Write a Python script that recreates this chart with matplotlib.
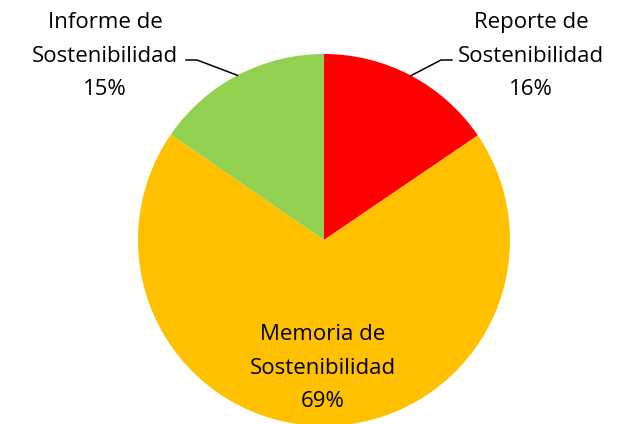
import numpy as np
import matplotlib
matplotlib.use("Agg")
import matplotlib.pyplot as plt

categories = ["Reporte de\nSostenibilidad", "Memoria de\nSostenibilidad", "Informe de\nSostenibilidad"]
values = [15.5, 69.1, 15.4]
colors = ["#FF0000", "#FFC000", "#92D050"]

W, H = 621, 424
fig = plt.figure(figsize=(W / 100, H / 100), dpi=100)
ax = fig.add_axes([0, 0, 1, 1])

cx, cy, r = 324, H - 240, 186
wedges, _ = ax.pie(values, colors=colors, startangle=90, counterclock=False,
                   center=(cx, cy), radius=r, frame=True)
ax.set_xlim(0, W)
ax.set_ylim(0, H)
ax.set_aspect("equal")
ax.axis("off")

font = dict(family="Open Sans", fontsize=16, color="black", ha="center", va="center",
            linespacing=1.8)

# label placements (layout)
label_pos = [(531, H - 56), (323, H - 368), (105, H - 56)]
elbow = [(441, H - 60, 452), None, (197, H - 60, 186)]

for w, cat, v, pos, el in zip(wedges, categories, values, label_pos, elbow):
    ax.text(pos[0], pos[1], f"{cat}\n{v:.0f}%", **font)
    if el is not None:
        mid = np.deg2rad((w.theta1 + w.theta2) / 2)
        sx, sy = cx + r * np.cos(mid), cy + r * np.sin(mid)
        ax.plot([sx, el[0], el[2]], [sy, el[1], el[1]], color="black", lw=1.1)

fig.savefig("out.png", dpi=100, facecolor="white")
